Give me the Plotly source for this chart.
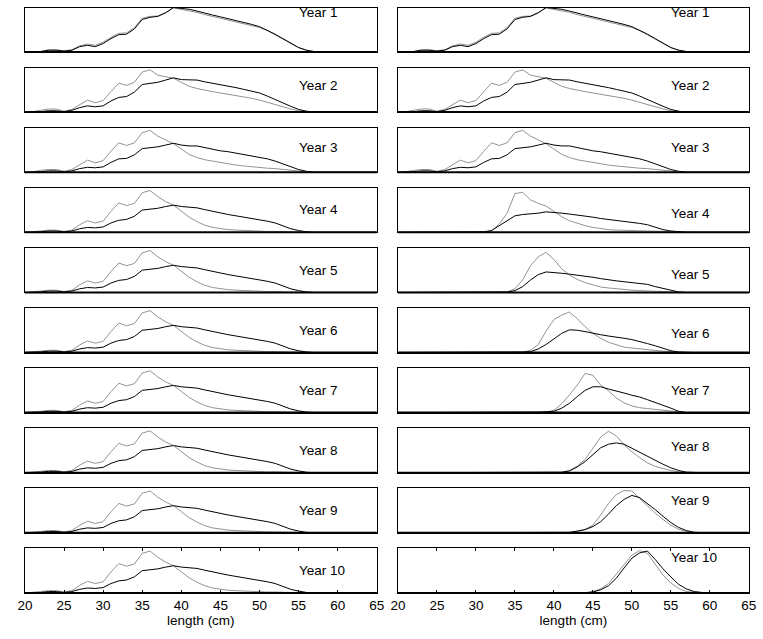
import plotly.graph_objects as go

# length classes (cm)
LENGTH = list(range(20, 66))

# ---- Year 1 (both columns) ----
G1 = [0, 0, 0.01, 0.05, 0.05, 0.03, 0.05, 0.14, 0.18, 0.15,
      0.22, 0.33, 0.42, 0.43, 0.55, 0.76, 0.80, 0.81, 0.89, 0.99,
      0.96, 0.93, 0.89, 0.84, 0.80, 0.76, 0.72, 0.68, 0.64, 0.59,
      0.55, 0.48, 0.39, 0.29, 0.19, 0.10, 0.04, 0.01, 0, 0,
      0, 0, 0, 0, 0, 0]
B1 = [0, 0, 0.01, 0.04, 0.04, 0.02, 0.04, 0.12, 0.15, 0.12,
      0.19, 0.30, 0.39, 0.40, 0.52, 0.73, 0.78, 0.80, 0.88, 1.0,
      0.98, 0.96, 0.92, 0.87, 0.83, 0.79, 0.75, 0.71, 0.67, 0.62,
      0.57, 0.49, 0.40, 0.30, 0.20, 0.10, 0.04, 0.01, 0, 0,
      0, 0, 0, 0, 0, 0]
# ---- Year 2 ----
G2 = [0, 0.01, 0.04, 0.07, 0.07, 0.02, 0.06, 0.17, 0.27, 0.21,
      0.26, 0.46, 0.65, 0.60, 0.67, 0.90, 0.95, 0.83, 0.80, 0.76,
      0.67, 0.58, 0.53, 0.49, 0.46, 0.43, 0.40, 0.38, 0.35, 0.31,
      0.27, 0.22, 0.16, 0.11, 0.07, 0.03, 0.01, 0, 0, 0,
      0, 0, 0, 0, 0, 0]
B2 = [0, 0, 0.01, 0.03, 0.03, 0.01, 0.04, 0.10, 0.14, 0.12,
      0.14, 0.25, 0.33, 0.35, 0.45, 0.62, 0.64, 0.67, 0.72, 0.77,
      0.73, 0.72, 0.72, 0.68, 0.65, 0.61, 0.58, 0.55, 0.51, 0.47,
      0.43, 0.36, 0.28, 0.21, 0.13, 0.06, 0.02, 0, 0, 0,
      0, 0, 0, 0, 0, 0]
# ---- Year 3 ----
G3 = [0, 0.01, 0.04, 0.06, 0.06, 0.02, 0.06, 0.17, 0.27, 0.21,
      0.26, 0.47, 0.66, 0.60, 0.66, 0.89, 0.94, 0.81, 0.72, 0.64,
      0.52, 0.40, 0.33, 0.28, 0.25, 0.22, 0.18, 0.16, 0.14, 0.12,
      0.11, 0.09, 0.08, 0.06, 0.04, 0.02, 0.01, 0, 0, 0,
      0, 0, 0, 0, 0, 0]
B3 = [0, 0, 0.01, 0.03, 0.03, 0.01, 0.03, 0.08, 0.11, 0.10,
      0.12, 0.22, 0.30, 0.31, 0.39, 0.53, 0.55, 0.57, 0.61, 0.65,
      0.61, 0.59, 0.59, 0.55, 0.51, 0.48, 0.46, 0.43, 0.40, 0.37,
      0.34, 0.30, 0.25, 0.19, 0.12, 0.06, 0.02, 0, 0, 0,
      0, 0, 0, 0, 0, 0]
# ---- Left column, years 4-10 ----
G4 = [0, 0.01, 0.03, 0.05, 0.05, 0.02, 0.05, 0.17, 0.26, 0.21,
      0.25, 0.47, 0.66, 0.60, 0.65, 0.89, 0.94, 0.80, 0.69, 0.61,
      0.48, 0.34, 0.24, 0.16, 0.11, 0.08, 0.06, 0.05, 0.04, 0.03,
      0.03, 0.02, 0.02, 0.01, 0.01, 0.01, 0, 0, 0, 0,
      0, 0, 0, 0, 0, 0]
B4 = [0, 0, 0.01, 0.03, 0.03, 0.01, 0.03, 0.08, 0.11, 0.10,
      0.12, 0.21, 0.27, 0.29, 0.36, 0.50, 0.52, 0.54, 0.58, 0.61,
      0.58, 0.56, 0.55, 0.51, 0.47, 0.43, 0.40, 0.37, 0.34, 0.32,
      0.29, 0.25, 0.21, 0.14, 0.08, 0.04, 0.01, 0, 0, 0,
      0, 0, 0, 0, 0, 0]
# ---- Right column, years 4-10 ----
RG4 = [0, 0, 0, 0, 0, 0, 0, 0, 0, 0,
       0, 0.005, 0.03, 0.19, 0.43, 0.87, 0.90, 0.73, 0.65, 0.59,
       0.47, 0.35, 0.26, 0.20, 0.15, 0.11, 0.08, 0.06, 0.05, 0.04,
       0.04, 0.035, 0.03, 0.03, 0.025, 0.015, 0.005, 0, 0, 0,
       0, 0, 0, 0, 0, 0]
RB4 = [0, 0, 0, 0, 0.003, 0.005, 0.005, 0.005, 0.005, 0.005,
       0.005, 0.01, 0.04, 0.15, 0.26, 0.37, 0.40, 0.41, 0.43, 0.46,
       0.45, 0.43, 0.41, 0.39, 0.36, 0.34, 0.31, 0.29, 0.27, 0.25,
       0.22, 0.20, 0.17, 0.11, 0.06, 0.03, 0.01, 0, 0, 0,
       0, 0, 0, 0, 0, 0]
RG5 = [0, 0, 0, 0, 0, 0, 0, 0, 0, 0,
       0, 0, 0, 0, 0.01, 0.08, 0.28, 0.60, 0.80, 0.90,
       0.74, 0.53, 0.39, 0.29, 0.22, 0.17, 0.12, 0.10, 0.08, 0.06,
       0.05, 0.04, 0.03, 0.025, 0.02, 0.01, 0.005, 0, 0, 0,
       0, 0, 0, 0, 0, 0]
RB5 = [0, 0, 0, 0, 0, 0, 0.005, 0.005, 0.005, 0.005,
       0.005, 0.005, 0.005, 0.005, 0.01, 0.04, 0.13, 0.28, 0.40, 0.46,
       0.45, 0.43, 0.41, 0.39, 0.37, 0.34, 0.31, 0.28, 0.26, 0.24,
       0.22, 0.20, 0.18, 0.13, 0.09, 0.04, 0.01, 0, 0, 0,
       0, 0, 0, 0, 0, 0]
RG6 = [0, 0, 0, 0, 0, 0, 0, 0, 0, 0,
       0, 0, 0, 0, 0, 0, 0.01, 0.05, 0.18, 0.48,
       0.74, 0.84, 0.91, 0.76, 0.58, 0.43, 0.32, 0.23, 0.17, 0.12,
       0.10, 0.08, 0.06, 0.05, 0.03, 0.02, 0.005, 0, 0, 0,
       0, 0, 0, 0, 0, 0]
RB6 = [0, 0, 0, 0, 0, 0, 0, 0.005, 0.005, 0.005,
       0.005, 0.005, 0.005, 0.005, 0.005, 0.005, 0.01, 0.02, 0.08, 0.18,
       0.31, 0.43, 0.51, 0.50, 0.47, 0.43, 0.40, 0.37, 0.35, 0.32,
       0.29, 0.25, 0.20, 0.15, 0.09, 0.04, 0.01, 0, 0, 0,
       0, 0, 0, 0, 0, 0]
RG7 = [0, 0, 0, 0, 0, 0, 0, 0, 0, 0,
       0, 0, 0, 0, 0, 0, 0, 0, 0, 0.01,
       0.05, 0.20, 0.40, 0.62, 0.88, 0.84, 0.62, 0.49, 0.33, 0.22,
       0.15, 0.11, 0.09, 0.07, 0.05, 0.04, 0.02, 0, 0, 0,
       0, 0, 0, 0, 0, 0]
RB7 = [0, 0, 0, 0, 0, 0, 0, 0, 0.005, 0.005,
       0.005, 0.005, 0.005, 0.005, 0.005, 0.005, 0.005, 0.005, 0.01, 0.02,
       0.03, 0.10, 0.21, 0.36, 0.50, 0.58, 0.58, 0.53, 0.49, 0.44,
       0.39, 0.35, 0.29, 0.23, 0.17, 0.10, 0.03, 0, 0, 0,
       0, 0, 0, 0, 0, 0]
RG8 = [0, 0, 0, 0, 0, 0, 0, 0, 0, 0,
       0, 0, 0, 0, 0, 0, 0, 0, 0, 0,
       0.005, 0.01, 0.05, 0.15, 0.30, 0.56, 0.80, 0.93, 0.83, 0.63,
       0.47, 0.34, 0.22, 0.14, 0.09, 0.05, 0.02, 0.01, 0, 0,
       0, 0, 0, 0, 0, 0]
RB8 = [0, 0, 0, 0, 0, 0, 0, 0, 0, 0,
       0, 0.005, 0.005, 0.005, 0.005, 0.005, 0.005, 0.005, 0.005, 0.005,
       0.005, 0.01, 0.04, 0.13, 0.25, 0.40, 0.56, 0.64, 0.67, 0.64,
       0.55, 0.45, 0.36, 0.27, 0.19, 0.11, 0.05, 0.01, 0, 0,
       0, 0, 0, 0, 0, 0]
RG9 = [0, 0, 0, 0, 0, 0, 0, 0, 0, 0,
       0, 0, 0, 0, 0, 0, 0, 0, 0, 0,
       0, 0, 0.005, 0.03, 0.08, 0.17, 0.40, 0.66, 0.86, 0.95,
       0.94, 0.77, 0.60, 0.44, 0.30, 0.17, 0.08, 0.03, 0.01, 0,
       0, 0, 0, 0, 0, 0]
RB9 = [0, 0, 0, 0, 0, 0, 0, 0, 0, 0,
       0, 0, 0.005, 0.005, 0.005, 0.005, 0.005, 0.005, 0.005, 0.005,
       0.005, 0.005, 0.01, 0.04, 0.07, 0.14, 0.25, 0.42, 0.61, 0.75,
       0.84, 0.79, 0.66, 0.52, 0.37, 0.23, 0.12, 0.05, 0.01, 0,
       0, 0, 0, 0, 0, 0]
RG10 = [0, 0, 0, 0, 0, 0, 0, 0, 0, 0,
        0, 0, 0, 0, 0, 0, 0, 0, 0, 0,
        0, 0, 0, 0, 0.005, 0.03, 0.09, 0.21, 0.42, 0.65,
        0.85, 0.95, 0.89, 0.64, 0.40, 0.22, 0.10, 0.03, 0.01, 0,
        0, 0, 0, 0, 0, 0]
RB10 = [0, 0, 0, 0, 0, 0, 0, 0, 0, 0,
        0, 0, 0, 0, 0, 0.003, 0.003, 0.003, 0.003, 0.003,
        0.003, 0.003, 0.003, 0.003, 0.003, 0.02, 0.07, 0.16, 0.33, 0.56,
        0.78, 0.90, 0.94, 0.75, 0.54, 0.36, 0.19, 0.09, 0.03, 0.01,
        0, 0, 0, 0, 0, 0]

YEARS = ["Year 1", "Year 2", "Year 3", "Year 4", "Year 5",
         "Year 6", "Year 7", "Year 8", "Year 9", "Year 10"]
LEFT_GREY = [G1, G2, G3, G4, G4, G4, G4, G4, G4, G4]
LEFT_BLACK = [B1, B2, B3, B4, B4, B4, B4, B4, B4, B4]
RIGHT_GREY = [G1, G2, G3, RG4, RG5, RG6, RG7, RG8, RG9, RG10]
RIGHT_BLACK = [B1, B2, B3, RB4, RB5, RB6, RB7, RB8, RB9, RB10]
LABEL_Y_LEFT = [0.88, 0.6, 0.55, 0.52, 0.5, 0.5, 0.5, 0.5, 0.5, 0.5]
LABEL_Y_RIGHT = [0.88, 0.6, 0.55, 0.43, 0.4, 0.43, 0.5, 0.6, 0.73, 0.8]
TICKS = [20, 25, 30, 35, 40, 45, 50, 55, 60, 65]

W, H = 763, 639
FONT = "Arial, Liberation Sans, sans-serif"
GREY = "#939393"

fig = go.Figure()
layout = dict(width=W, height=H, margin=dict(l=0, r=0, t=0, b=0),
              paper_bgcolor="white", plot_bgcolor="white",
              showlegend=False, font=dict(family=FONT, size=13.5, color="black"))
annotations = []
shapes = []

col_dom = [(17.3 / W, 376.7 / W), (398.3 / W, 756.7 / W)]

n = 0
for col in range(2):
    greys = LEFT_GREY if col == 0 else RIGHT_GREY
    blacks = LEFT_BLACK if col == 0 else RIGHT_BLACK
    labs = LABEL_Y_LEFT if col == 0 else LABEL_Y_RIGHT
    for k in range(10):
        n += 1
        top = 7.5 + 60.1 * k
        bot = top + 44.5
        xa = "x" if n == 1 else f"x{n}"
        ya = "y" if n == 1 else f"y{n}"
        fig.add_trace(go.Scatter(x=LENGTH, y=greys[k], mode="lines",
                                 line=dict(color=GREY, width=1),
                                 xaxis=xa, yaxis=ya, hoverinfo="skip"))
        fig.add_trace(go.Scatter(x=LENGTH, y=blacks[k], mode="lines",
                                 line=dict(color="black", width=1),
                                 xaxis=xa, yaxis=ya, hoverinfo="skip"))
        last = (k == 9)
        xdict = dict(domain=list(col_dom[col]), range=[20, 65], anchor=ya,
                     showline=True, mirror=True, linecolor="black", linewidth=1,
                     showgrid=False, zeroline=False,
                     tickvals=TICKS if last else [],
                     ticks="inside" if last else "",
                     ticklen=3, tickcolor="black",
                     showticklabels=last,
                     tickfont=dict(family=FONT, size=13.5, color="black"))
        if last:
            xdict["mirror"] = "ticks"
            xdict["title"] = dict(text="length (cm)", standoff=2,
                                  font=dict(family=FONT, size=13.5, color="black"))
        ydict = dict(domain=[1 - bot / H, 1 - top / H], range=[0, 1.0], anchor=xa,
                     showline=True, mirror=True, linecolor="black", linewidth=1,
                     showgrid=False, zeroline=False, showticklabels=False, ticks="")
        layout["xaxis" if n == 1 else f"xaxis{n}"] = xdict
        layout["yaxis" if n == 1 else f"yaxis{n}"] = ydict
        annotations.append(dict(text=YEARS[k], x=54.75, y=labs[k], xref=xa,
                                yref=f"{ya} domain", xanchor="left", yanchor="middle",
                                showarrow=False,
                                font=dict(family=FONT, size=13.5, color="black")))
        shapes.append(dict(type="line", xref=f"{xa} domain", yref=f"{ya} domain",
                           x0=0, x1=1, y0=0, y1=0,
                           line=dict(color="black", width=2)))

layout["annotations"] = annotations
layout["shapes"] = shapes
fig.update_layout(**layout)
fig.write_html("out.html")
